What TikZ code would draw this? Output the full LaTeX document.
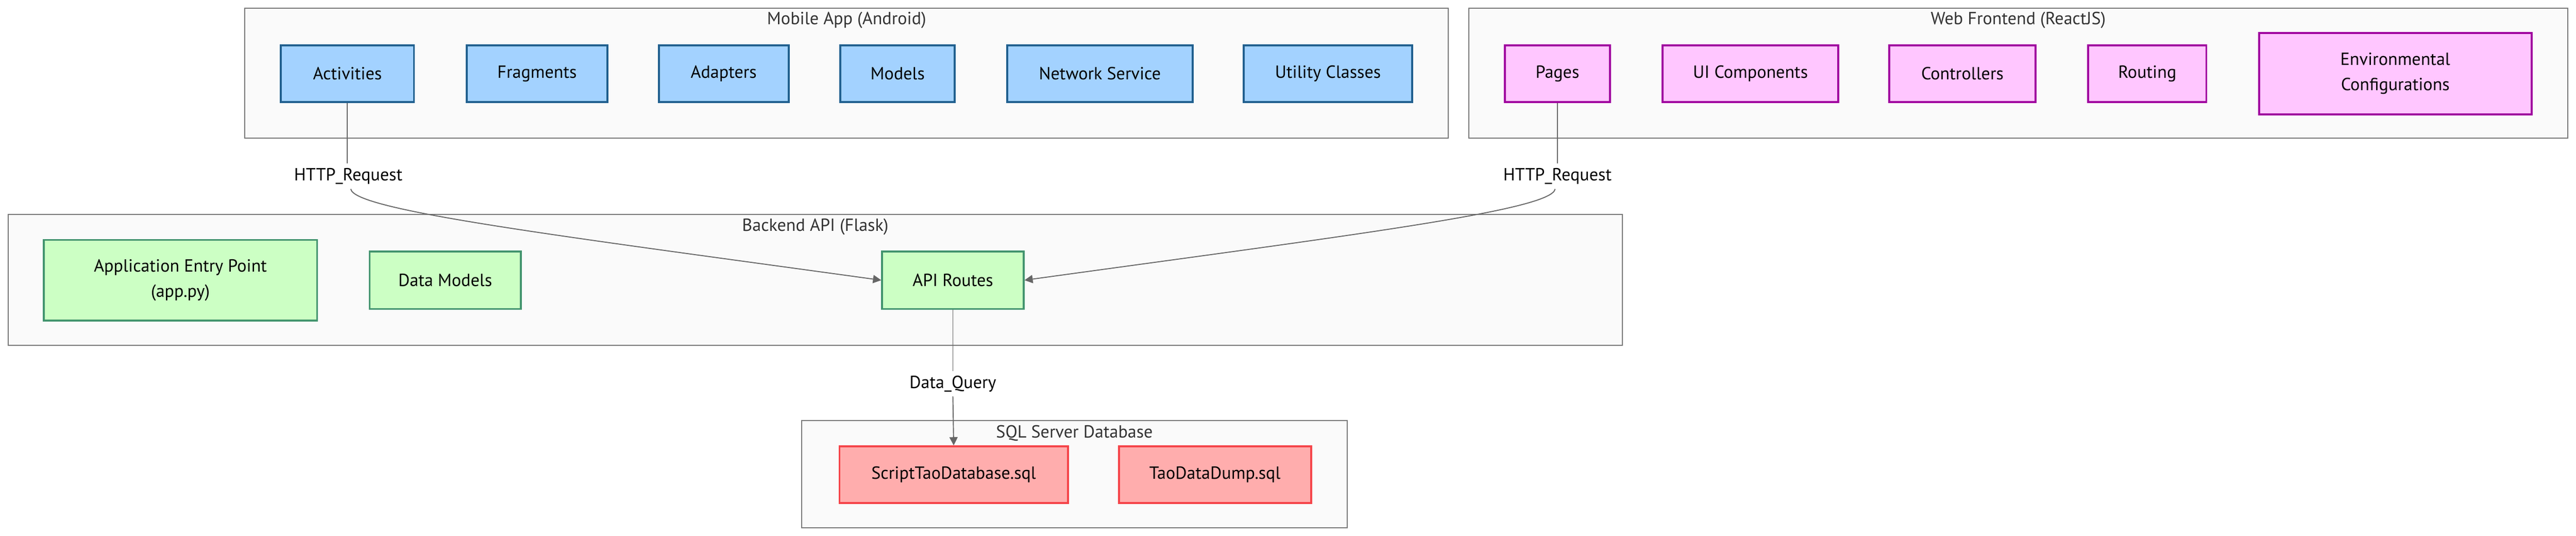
\documentclass[tikz,border=0pt]{standalone}
\usepackage{fontspec}
\setmainfont{PT Sans}
\usetikzlibrary{arrows.meta}
\definecolor{clusterfill}{HTML}{FAFAFA}
\definecolor{clusterline}{HTML}{777777}
\definecolor{titlegray}{HTML}{333333}
\definecolor{edgegray}{HTML}{666666}
\definecolor{bluefill}{HTML}{A3D2FF}
\definecolor{blueline}{HTML}{21608F}
\definecolor{greenfill}{HTML}{CCFFC4}
\definecolor{greenline}{HTML}{42946E}
\definecolor{pinkfill}{HTML}{FFC6FF}
\definecolor{pinkline}{HTML}{A0009F}
\definecolor{redfill}{HTML}{FFADAD}
\definecolor{redline}{HTML}{F54449}
\begin{document}
\begin{tikzpicture}[x=1pt,y=-1pt,
  cluster/.style={rectangle, draw=clusterline, fill=clusterfill, line width=0.6pt, inner sep=0},
  ctitle/.style={text=titlegray, font=\fontsize{10.7}{13}\selectfont, inner sep=0},
  box/.style={rectangle, line width=1.2pt, inner sep=0, align=center, text=black,
    font=\fontsize{10.7}{15.3}\selectfont},
  bluebox/.style={box, draw=blueline, fill=bluefill, minimum height=34.5pt},
  greenbox/.style={box, draw=greenline, fill=greenfill},
  pinkbox/.style={box, draw=pinkline, fill=pinkfill},
  redbox/.style={box, draw=redline, fill=redfill, minimum height=34.4pt},
  elabel/.style={fill=white, inner sep=0, minimum height=15pt, text=black,
    font=\fontsize{10.7}{13}\selectfont},
  edge/.style={draw=edgegray, line width=0.6pt},
  arr/.style={edge, -{Triangle[length=5pt,width=5pt]}}
]
\useasboundingbox (0,0) rectangle (1568,326.05);
\fill[white] (0,0) rectangle (1568,326.05);

% clusters
\node[cluster, minimum width=732.5pt, minimum height=79pt] (mobile) at (515.35,44.5) {};
\node[cluster, minimum width=669pt, minimum height=79pt] (web) at (1228.5,44.5) {};
\node[cluster, minimum width=982.5pt, minimum height=79.6pt] (backend) at (496.25,170.4) {};
\node[cluster, minimum width=332pt, minimum height=65pt] (sql) at (654,288.5) {};

\node[ctitle] (mobiletitle) at (515.35,12.4) {Mobile App (Android)};
\node[ctitle] (webtitle) at (1228.5,12.4) {Web Frontend (ReactJS)};
\node[ctitle] (backendtitle) at (496.25,138) {Backend API (Flask)};
\node[ctitle] (sqltitle) at (654,263.6) {SQL Server Database};

% mobile nodes
\node[bluebox, minimum width=81pt] (act) at (211.5,44.75) {Activities};
\node[bluebox, minimum width=85.5pt] (frag) at (326.9,44.75) {Fragments};
\node[bluebox, minimum width=79pt] (adap) at (440.5,44.75) {Adapters};
\node[bluebox, minimum width=69.6pt] (models) at (546.4,44.75) {Models};
\node[bluebox, minimum width=113pt] (net) at (669.5,44.75) {Network Service};
\node[bluebox, minimum width=102.7pt] (util) at (808.3,44.75) {Utility Classes};

% web nodes
\node[pinkbox, minimum width=64pt, minimum height=34.5pt] (pages) at (948,44.75) {Pages};
\node[pinkbox, minimum width=107pt, minimum height=34.5pt] (uic) at (1065.5,44.75) {UI Components};
\node[pinkbox, minimum width=89pt, minimum height=34.5pt] (ctrl) at (1194.5,44.75) {Controllers};
\node[pinkbox, minimum width=72pt, minimum height=34.5pt] (rout) at (1307,44.75) {Routing};
\node[pinkbox, minimum width=166pt, minimum height=49.5pt] (env) at (1458,44.75) {Environmental\\Configurations};

% backend nodes
\node[greenbox, minimum width=166.4pt, minimum height=49pt] (entry) at (109.8,170.5) {Application Entry Point\\(app.py)};
\node[greenbox, minimum width=92pt, minimum height=35pt] (dmodels) at (271,170.5) {Data Models};
\node[greenbox, minimum width=86pt, minimum height=35pt] (api) at (580,170.5) {API Routes};

% sql nodes
\node[redbox, minimum width=139pt] (script) at (580.5,288.8) {ScriptTaoDatabase.sql};
\node[redbox, minimum width=117pt] (dump) at (739.5,288.8) {TaoDataDump.sql};

% edge labels
\node[elabel] (lbl1) at (212,107.2) {HTTP\_Request};
\node[elabel] (lbl2) at (948,107.2) {HTTP\_Request};
\node[elabel] (lbl3) at (580,233.5) {Data\_Query};

% edges
\draw[edge] (act.south) -- (act.south |- lbl1.north);
\draw[arr] (213.5,115) .. controls (215.5,128) and (337,143) .. (api.west);
\draw[edge] (pages.south) -- (pages.south |- lbl2.north);
\draw[arr] (946.6,115) .. controls (944.6,128) and (823,143) .. (api.east);
\draw[edge] (api.south) -- (lbl3.north);
\draw[arr] (lbl3.south) -- (script.north);
\end{tikzpicture}
\end{document}
